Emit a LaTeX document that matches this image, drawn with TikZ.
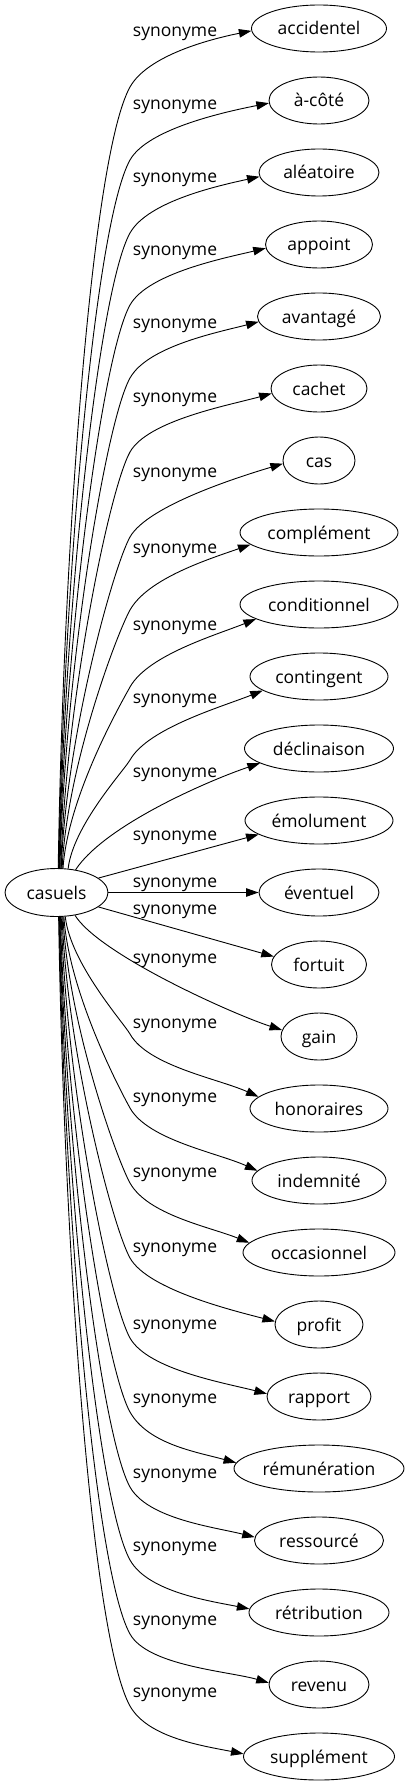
\documentclass[tikz,border=0pt]{standalone}
\usepackage{fontspec}
\setmainfont{Open Sans}
\usetikzlibrary{shapes.geometric,arrows.meta}
\tikzset{
  tgt/.style={draw, ellipse, line width=0.9pt, minimum height=47pt, inner sep=0pt, text height=13pt, text depth=0pt},
  lab/.style={anchor=base, inner sep=0pt},
  edge/.style={line width=0.9pt, -{Triangle[length=12.5pt,width=8.5pt]}}
}
\begin{document}
\begin{tikzpicture}[x=1pt,y=-1pt,font=\fontsize{17.5}{21}\selectfont]
\useasboundingbox (0,0) rectangle (409,1787);
\node[tgt, minimum width=103pt, minimum height=48pt] (casuels) at (56.5,892.5) {casuels};
\foreach \i/\w/\txt in {0/67.5/accidentel, 1/50/à-côté, 2/60/aléatoire, 3/53.5/appoint, 4/61.5/avantagé, 5/48/cachet, 6/36/cas, 7/79/complément, 8/79/conditionnel, 9/69/contingent, 10/74.5/déclinaison, 11/74/émolument, 12/60/éventuel, 13/47.5/fortuit, 14/38/gain, 15/69/honoraires, 16/67/indemnité, 17/76/occasionnel, 18/44/profit, 19/52/rapport, 20/85/rémunération, 21/64.5/ressourcé, 22/70/rétribution, 23/50/revenu, 24/75.5/supplément}{
  \node[tgt, minimum width={2*\w}] (t\i) at (319,{28.5+72*\i}) {\txt};
}
\foreach \i/\yl in {0/32,1/105,2/178,3/250,4/323,5/397,6/472,7/548,8/625,9/698,10/772,11/835,12/882,13/909,14/958,15/1023,16/1097,17/1172,18/1247,19/1324,20/1398,21/1473,22/1546,23/1620,24/1692}{
  \node[lab] (l\i) at (175,{\yl+5}) {synonyme};
}
% upper edges
\foreach \n/\sa/\yk/\ea/\s in {t0/86/87/182/0.2, t1/85/160/183/0.2, t2/84/233/184/0.22, t3/83/305/184/0.24, t4/82/378/185/0.26, t5/80/452/186/0.28, t6/79/537/185/0.3, t7/77/610/190/0.35, t8/75/687/193/0.4, t9/64/760/194/0.4}{
  \pgfmathsetmacro\dv{868-\yk}
  \draw[edge] (casuels.\sa) .. controls +(5,{-0.4*\dv}) and +({-0.05*\dv},{0.09*\dv}) .. (130,\yk) .. controls +(18,-32) and +(-40,{40*\s}) .. (\n.\ea);
}
\draw[edge] (casuels.50) .. controls (105,825) and (210,780) .. (t10.194);
\draw[edge] (casuels.19) -- (t11.193);
\draw[edge] (casuels) -- (t12);
\draw[edge] (casuels.341) -- (t13.170);
\draw[edge] (casuels.309) .. controls (100,955) and (235,1015) .. (t14.170);
% lower edges
\foreach \n/\sa/\yk/\ea/\s in {t15/290/1034/169/0.45, t16/287/1108/171/0.45, t17/285/1183/172/0.4, t18/283/1258/176/0.26, t19/281/1338/177/0.26, t20/279/1412/176/0.27, t21/278/1487/177/0.25, t22/277/1560/177/0.2, t23/276/1634/178/0.29, t24/275/1706/178/0.2}{
  \pgfmathsetmacro\dv{\yk-917}
  \draw[edge] (casuels.\sa) .. controls +(5,{0.4*\dv}) and +({-0.05*\dv},{-0.09*\dv}) .. (130,\yk) .. controls +(18,32) and +(-40,{-40*\s}) .. (\n.\ea);
}
\end{tikzpicture}
\end{document}
